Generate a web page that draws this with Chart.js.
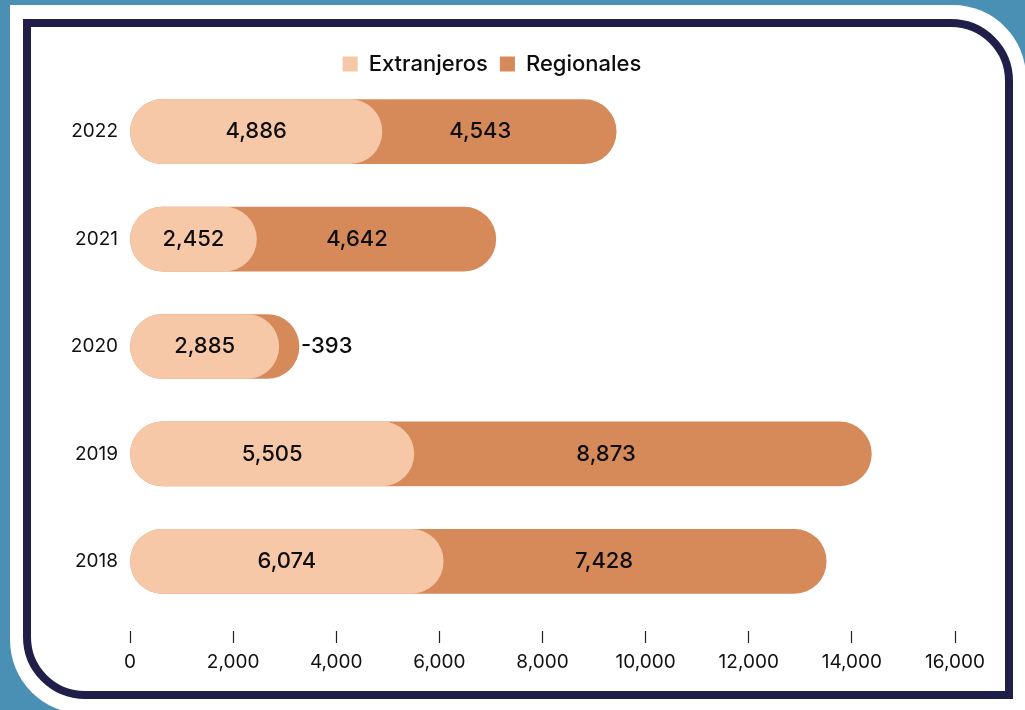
<!DOCTYPE html>
<html>
<head>
<meta charset="utf-8">
<title>Extranjeros y Regionales</title>
<script src="https://cdn.jsdelivr.net/npm/chart.js@4.4.0/dist/chart.umd.min.js"></script>
<style>
  html, body { margin: 0; padding: 0; }
  body { width: 1025px; height: 710px; overflow: hidden; background: #4a90b4; position: relative; }
  .sheet { position: absolute; left: 10px; top: 5px; right: -1px; bottom: -4px; background: #fff; border-radius: 0 73px 0 74px; }
  .card { position: absolute; left: 23px; top: 19px; width: 990px; height: 680px; box-sizing: border-box;
          border: 8px solid #1f1f4a; border-radius: 0 62px 0 62px; background: #fff; }
  #chart { position: absolute; left: 0; top: 0; }
</style>
</head>
<body>
<div class="sheet"></div>
<div class="card"></div>
<canvas id="chart" width="1025" height="710"></canvas>
<script>
const years = ['2022', '2021', '2020', '2019', '2018'];
const extranjeros = [4886, 2452, 2885, 5505, 6074];
const regionales = [4543, 4642, -393, 8873, 7428];
const xTicks = [0, 2000, 4000, 6000, 8000, 10000, 12000, 14000, 16000];

// the dark bar sits behind the light one and runs to the combined length
const totals = extranjeros.map((e, i) => e + Math.abs(regionales[i]));

const fmt = v => v.toLocaleString('en-US');

const barLabels = {
  id: 'barLabels',
  afterDatasetsDraw(chart) {
    const ctx = chart.ctx;
    const front = chart.getDatasetMeta(0).data;
    const back = chart.getDatasetMeta(1).data;
    ctx.save();
    ctx.font = '500 22px Inter';
    ctx.fillStyle = '#0d0d0d';
    ctx.textBaseline = 'middle';
    front.forEach((bar, i) => {
      ctx.textAlign = 'center';
      ctx.fillText(fmt(extranjeros[i]), (bar.base + bar.x) / 2, bar.y);
      const end = back[i].x;
      if (regionales[i] >= 0) {
        ctx.fillText(fmt(regionales[i]), bar.x + (end - bar.x) * 0.42, bar.y);
      } else {
        ctx.textAlign = 'left';
        ctx.fillText(fmt(regionales[i]), end + 2, bar.y);
      }
    });
    ctx.restore();
  }
};

Chart.defaults.font.family = 'Inter';
Chart.defaults.color = '#111';

new Chart(document.getElementById('chart'), {
  type: 'bar',
  data: {
    labels: years,
    datasets: [
      { label: 'Extranjeros', data: extranjeros, backgroundColor: '#f6c8a7',
        borderRadius: 32, borderSkipped: false, barThickness: 64, grouped: false },
      { label: 'Regionales', data: totals, backgroundColor: '#d68a59',
        borderRadius: 32, borderSkipped: false, barThickness: 64, grouped: false }
    ]
  },
  options: {
    indexAxis: 'y',
    responsive: false,
    animation: false,
    layout: { padding: { left: 29, right: 70, top: 41, bottom: 0 } },
    plugins: {
      legend: {
        maxHeight: 37,
        labels: { boxWidth: 15, boxHeight: 15, padding: 12, color: '#0d0d0d', font: { size: 22, weight: '500' } }
      },
      tooltip: { enabled: false }
    },
    scales: {
      x: {
        min: 0, max: 16000,
        afterFit: s => { s.height = 95; },
        afterBuildTicks: s => { s.ticks = xTicks.map(v => ({ value: v })); },
        border: { display: false },
        grid: { drawOnChartArea: false, tickLength: 28, tickColor: '#222', tickWidth: 1.2,
                tickBorderDash: [0, 16, 12, 100] },
        ticks: { padding: 8, font: { size: 19 }, color: '#111', callback: v => fmt(v) }
      },
      y: {
        afterFit: s => { s.width = 101; },
        grid: { display: false },
        border: { display: false },
        ticks: { padding: 4, font: { size: 19 }, color: '#111' }
      }
    }
  },
  plugins: [barLabels]
});
</script>
</body>
</html>
